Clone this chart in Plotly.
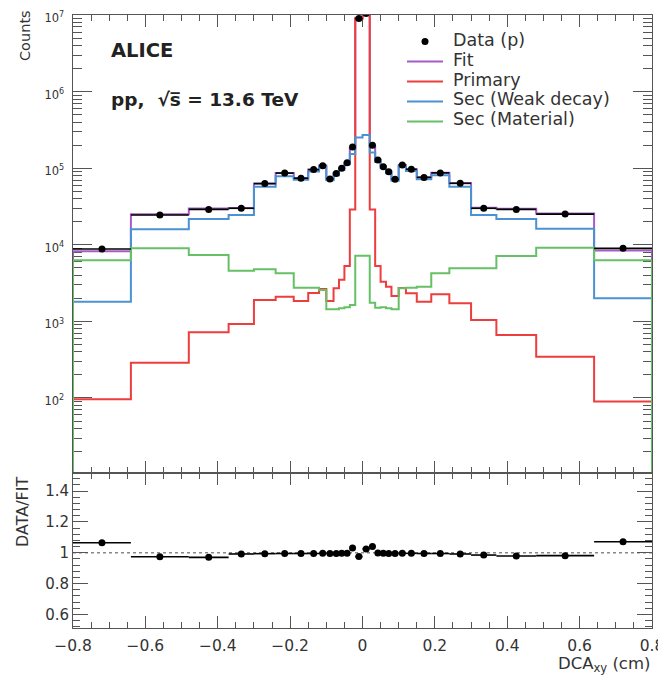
import plotly.graph_objects as go
from plotly.subplots import make_subplots

# ---------------- data ----------------
bin_edges = [-0.8, -0.64, -0.48, -0.37, -0.30, -0.24, -0.19, -0.15, -0.12, -0.10,
             -0.08, -0.065, -0.05, -0.035, -0.02, 0.0, 0.02, 0.035, 0.05, 0.065,
             0.08, 0.10, 0.12, 0.15, 0.19, 0.24, 0.30, 0.37, 0.48, 0.64, 0.8]

data_counts = [8800, 24500, 29000, 30000, 63000, 86500, 74000, 96000, 108000, 72500,
               85500, 100000, 118000, 190000, 9.0e6, 1.05e7, 200000, 128000, 105000, 90000,
               72000, 110000, 97000, 76000, 87000, 63500, 30000, 29000, 25200, 9000]

fit_counts = [8260, 25150, 29900, 30240, 63400, 86900, 74400, 96500, 108400, 72900,
              85900, 100400, 118400, 184500, 9.23e6, 1.024e7, 192300, 128300, 105400, 90450,
              72350, 110400, 97400, 76400, 87400, 64000, 30460, 29620, 25690, 8400]

primary_counts = [96, 289, 721, 925, 1900, 2100, 1850, 2350, 2650, 1850,
                  2700, 3500, 5300, 29000, 8.97e6, 9.96e6, 29000, 5300, 3300, 2840,
                  2150, 2730, 2330, 1800, 2270, 1720, 1040, 664, 346, 90]

weak_decay_counts = [1800, 16000, 21700, 24600, 57200, 78500, 70600, 91000, 104000, 69800,
                     81000, 95000, 113000, 154000, 252000, 272000, 161000, 121000, 100500, 86000,
                     68700, 105000, 92300, 71800, 81000, 57300, 24500, 21800, 16200, 2000]

material_counts = [6300, 9000, 7360, 4590, 4790, 4250, 2750, 2750, 2570, 1440,
                   1440, 1480, 1530, 1640, 7200, 7200, 1750, 1510, 1530, 1480,
                   1440, 2700, 2750, 2840, 4250, 4930, 4930, 7150, 9170, 6300]

data_over_fit = [1.065, 0.974, 0.970, 0.992, 0.994, 0.995, 0.995, 0.995, 0.996, 0.995,
                 0.995, 0.996, 0.997, 1.030, 0.975, 1.025, 1.040, 0.998, 0.996, 0.995,
                 0.995, 0.996, 0.996, 0.995, 0.995, 0.992, 0.985, 0.979, 0.981, 1.071]

# ---------------- styles ----------------
FONT = "DejaVu Sans"
C_FIT = "#a65cc6"
C_PRIM = "#ee3d3d"
C_WEAK = "#4a92d2"
C_MAT = "#66c066"
AX = "#555555"
TXT = "#333333"

centers = [(a + b) / 2 for a, b in zip(bin_edges[:-1], bin_edges[1:])]
halfw = [(b - a) / 2 for a, b in zip(bin_edges[:-1], bin_edges[1:])]


def hist_xy(vals, floor=1.0):
    x = [bin_edges[0]] + list(bin_edges) + [bin_edges[-1]]
    y = [floor] + list(vals) + [vals[-1], floor]
    return x, y


fig = make_subplots(rows=2, cols=1, shared_xaxes=True, vertical_spacing=0,
                    row_heights=[458, 155])

for name, vals, col in [("Fit", fit_counts, C_FIT),
                        ("Primary", primary_counts, C_PRIM),
                        ("Sec (Weak decay)", weak_decay_counts, C_WEAK),
                        ("Sec (Material)", material_counts, C_MAT)]:
    hx, hy = hist_xy(vals)
    fig.add_trace(go.Scatter(x=hx, y=hy, mode="lines", name=name, showlegend=False,
                             line=dict(color=col, width=2, shape="hv"),
                             hoverinfo="skip"), row=1, col=1)

fig.add_trace(go.Scatter(x=centers, y=data_counts, mode="markers", name="Data (p)",
                         showlegend=False,
                         marker=dict(color="black", size=7),
                         error_x=dict(type="data", array=halfw, color="black",
                                      thickness=1.6, width=0)), row=1, col=1)

fig.add_trace(go.Scatter(x=centers, y=data_over_fit, mode="markers", name="DATA/FIT",
                         showlegend=False,
                         marker=dict(color="black", size=7),
                         error_x=dict(type="data", array=halfw, color="black",
                                      thickness=1.6, width=0)), row=2, col=1)

# dotted unity line in ratio panel
fig.add_shape(type="line", xref="x2 domain", yref="y2", x0=0, x1=1, y0=1, y1=1,
              line=dict(color="#888888", width=1.5, dash="dot"), layer="below")

common_x = dict(range=[-0.8, 0.8], showline=True, linecolor=AX, linewidth=1,
                mirror="ticks", ticks="inside", ticklen=12, tickwidth=1, tickcolor=AX,
                tick0=0, dtick=0.2, showgrid=False, zeroline=False, automargin=False,
                minor=dict(ticks="inside", ticklen=6, dtick=0.05, tickcolor=AX, showgrid=False),
                layer="below traces")

fig.update_xaxes(**common_x, showticklabels=False, row=1, col=1)
fig.update_xaxes(**common_x, showticklabels=True, ticklabelstandoff=3,
                 ticklabeloverflow="allow",
                 tickfont=dict(family=FONT, size=15.5, color=TXT), row=2, col=1)

fig.update_yaxes(type="log", range=[1.02, 7.0015], dtick=1, tick0=0, exponentformat="power",
                 showline=True, linecolor=AX, linewidth=1, mirror="ticks", automargin=False,
                 ticks="inside", ticklen=19, tickcolor=AX, ticklabelstandoff=6,
                 ticklabelshift=3, ticklabeloverflow="allow",
                 minor=dict(ticks="inside", ticklen=9, dtick="D1", tickcolor=AX, showgrid=False),
                 showgrid=False, zeroline=False, layer="below traces",
                 tickfont=dict(family=FONT, size=9.2, color=TXT), row=1, col=1)

fig.update_yaxes(range=[0.512, 1.517], dtick=0.2, tick0=0, automargin=False,
                 showline=True, linecolor=AX, linewidth=1, mirror="ticks",
                 ticks="inside", ticklen=15, tickcolor=AX,
                 minor=dict(ticks="inside", ticklen=7, dtick=0.04, tickcolor=AX, showgrid=False),
                 showgrid=False, zeroline=False, layer="below traces",
                 tickfont=dict(family=FONT, size=15, color=TXT), row=2, col=1)

# ---------------- layout geometry ----------------
# The page body adds an 8 px margin, so the figure is sized/offset to compensate.
OFF = 8
W, H = 666 - OFF, 677 - OFF
PL, PR, PT, PB = 73, 652, 15, 628          # plot frame in page pixels
ML, MR, MT, MB = PL - OFF, (W + OFF) - PR, PT - OFF, (H + OFF) - PB
PW, PH = PR - PL, PB - PT


def px(xp):
    return (xp - PL) / PW


def py(yp):
    return (PB - yp) / PH


annots = [
    dict(text="<b>ALICE</b>", x=px(109), y=py(50), xanchor="left", yanchor="middle",
         font=dict(family=FONT, size=19.5, color="#222222")),
    dict(text="<b>pp,\u00a0\u00a0√s\u0305 = 13.6 TeV</b>",
         x=px(109), y=py(99), xanchor="left", yanchor="middle",
         font=dict(family=FONT, size=18.5, color="#222222")),
    dict(text="Counts", x=px(25), y=py(36), xanchor="center", yanchor="middle", textangle=-90,
         font=dict(family=FONT, size=14.5, color=TXT)),
    dict(text="DATA/FIT", x=px(22), y=py(512), xanchor="center", yanchor="middle", textangle=-90,
         font=dict(family=FONT, size=16, color=TXT)),
    dict(text="DCA<sub>xy</sub> (cm)", x=px(652), y=py(664), xanchor="right", yanchor="middle",
         font=dict(family=FONT, size=16.5, color=TXT)),
]

legend_rows = [("Data (p)", None, 39.5), ("Fit", C_FIT, 59.5), ("Primary", C_PRIM, 79.5),
               ("Sec (Weak decay)", C_WEAK, 99.5), ("Sec (Material)", C_MAT, 119.5)]
shapes = []
for label, col, yy in legend_rows:
    annots.append(dict(text=label, x=px(451), y=py(yy), xanchor="left", yanchor="middle",
                       font=dict(family=FONT, size=17.5, color=TXT)))
    if col is None:
        shapes.append(dict(type="circle", xref="paper", yref="paper", xsizemode="pixel",
                           ysizemode="pixel", xanchor=px(425), yanchor=py(yy + 2),
                           x0=-3.5, x1=3.5, y0=-3.5, y1=3.5,
                           fillcolor="black", line=dict(color="black", width=0)))
    else:
        shapes.append(dict(type="line", xref="paper", yref="paper", x0=px(407), x1=px(443),
                           y0=py(yy + 2), y1=py(yy + 2), line=dict(color=col, width=2)))

for a in annots:
    a.update(xref="paper", yref="paper", showarrow=False)

fig.update_layout(width=W, height=H, margin=dict(l=ML, r=MR, t=MT, b=MB, autoexpand=False),
                  paper_bgcolor="white", plot_bgcolor="white", showlegend=False,
                  annotations=annots,
                  font=dict(family=FONT, color=TXT))
for s in shapes:
    fig.add_shape(**s)

fig.write_html("out.html")
